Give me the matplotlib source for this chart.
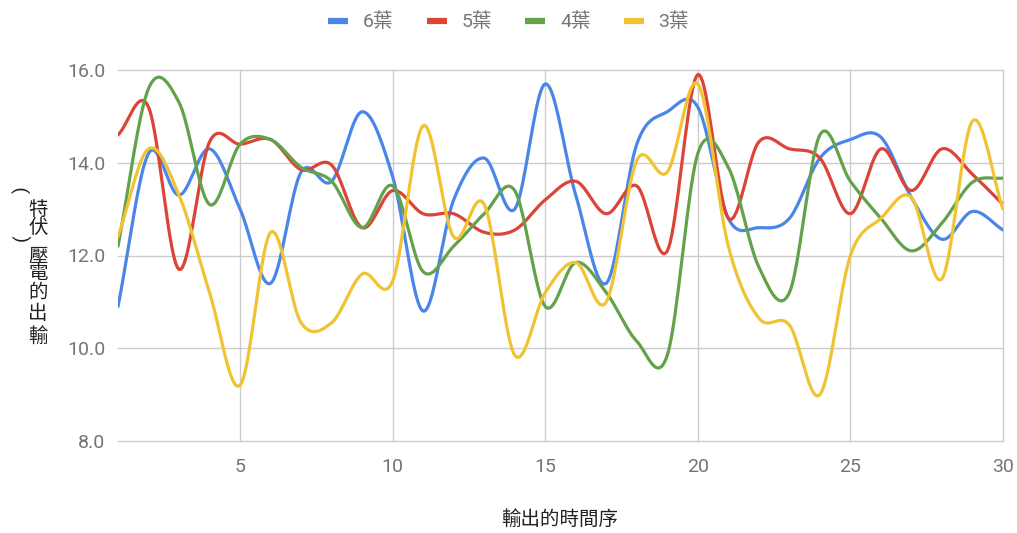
import numpy as np
import matplotlib
matplotlib.use("Agg")
import matplotlib.pyplot as plt

plt.rcParams['font.family'] = ['Roboto', 'Noto Sans CJK TC', 'DejaVu Sans']

x = list(range(1, 31))
series_names = ['6葉', '5葉', '4葉', '3葉']
leaf6 = [10.9, 14.2, 13.3, 14.3, 13.0, 11.4, 13.8, 13.6, 15.1, 13.7,
         10.8, 13.2, 14.1, 13.0, 15.7, 13.3, 11.4, 14.4, 15.1, 15.2,
         12.8, 12.6, 12.8, 14.1, 14.5, 14.55, 13.25, 12.35, 12.95, 12.55]
leaf5 = [14.6, 15.2, 11.7, 14.45, 14.4, 14.5, 13.85, 13.95, 12.6, 13.4,
         12.9, 12.9, 12.5, 12.55, 13.2, 13.6, 12.9, 13.5, 12.1, 15.9,
         12.8, 14.45, 14.3, 14.1, 12.9, 14.3, 13.4, 14.3, 13.75, 13.1]
leaf4 = [12.2, 15.6, 15.3, 13.1, 14.4, 14.5, 13.9, 13.6, 12.6, 13.5,
         11.65, 12.2, 12.9, 13.4, 10.9, 11.85, 11.2, 10.15, 9.85, 14.2,
         13.9, 11.75, 11.2, 14.6, 13.6, 12.8, 12.1, 12.7, 13.58, 13.67]
leaf3 = [12.4, 14.3, 13.3, 11.2, 9.2, 12.5, 10.55, 10.55, 11.6, 11.45,
         14.8, 12.4, 13.1, 9.85, 11.2, 11.85, 11.0, 14.05, 13.8, 15.7,
         12.2, 10.65, 10.5, 9.0, 12.0, 12.8, 13.25, 11.5, 14.9, 13.0]
colors = ['#4a86e8', '#db4437', '#62a24a', '#f1c232']


def smooth(xs, ys, n=20):
    # Catmull-Rom curve through every data point
    xs = np.asarray(xs, float)
    ys = np.asarray(ys, float)
    m = np.gradient(ys, xs)
    m[1:-1] = (ys[2:] - ys[:-2]) / (xs[2:] - xs[:-2])
    out_x, out_y = [], []
    for i in range(len(xs) - 1):
        t = np.linspace(0, 1, n, endpoint=False)
        h = xs[i + 1] - xs[i]
        h00 = 2 * t**3 - 3 * t**2 + 1
        h10 = t**3 - 2 * t**2 + t
        h01 = -2 * t**3 + 3 * t**2
        h11 = t**3 - t**2
        out_x.append(xs[i] + t * h)
        out_y.append(h00 * ys[i] + h10 * h * m[i] + h01 * ys[i + 1] + h11 * h * m[i + 1])
    out_x.append([xs[-1]])
    out_y.append([ys[-1]])
    return np.concatenate(out_x), np.concatenate(out_y)


fig = plt.figure(figsize=(10.17, 5.33), dpi=100)
ax = fig.add_axes([118 / 1017, 92 / 533, 885 / 1017, 371 / 533])

for name, ys, c in zip(series_names, [leaf6, leaf5, leaf4, leaf3], colors):
    sx, sy = smooth(x, ys)
    ax.plot(sx, sy, color=c, lw=2.3, label=name, solid_capstyle='round')

ax.set_xlim(1, 30)
ax.set_ylim(8, 16)
ax.set_xticks([5, 10, 15, 20, 25, 30])
ax.set_yticks([8, 10, 12, 14, 16])
ax.set_yticklabels(['8.0', '10.0', '12.0', '14.0', '16.0'])
ax.grid(True, color='#cccccc', lw=1)
for gl in ax.get_xgridlines() + ax.get_ygridlines():
    gl.set_clip_on(False)
ax.set_axisbelow(True)
for s in ax.spines.values():
    s.set_visible(False)
ax.tick_params(length=0, labelsize=14, labelcolor='#757575', pad=9)
ax.tick_params(axis='x', pad=12)

fig.text(560 / 1017, 1 - 520 / 533, '輸出的時間序', fontsize=14, color='#222222',
         ha='center', va='center')

# vertical y label, characters stacked upright, read bottom to top
ylab = '輸出的電壓(伏特)'
ypos = [337, 314, 293, 273, 257, 238, 228, 210, 190]
for ch, yp in zip(ylab, ypos):
    if ch in '()':
        fig.text(22 / 1017, 1 - yp / 533, ch, rotation=90, fontsize=14,
                 color='#222222', ha='center', va='center')
    else:
        fig.text(38 / 1017, 1 - yp / 533, ch, fontsize=14,
                 color='#222222', ha='center', va='center')

leg = ax.legend(loc='center', bbox_to_anchor=(0.5, 1 - 22 / 533), bbox_transform=fig.transFigure,
                ncol=4, frameon=False, fontsize=14, handlelength=1.05, handletextpad=0.75,
                columnspacing=1.7)
for t in leg.get_texts():
    t.set_color('#757575')
for h in leg.legend_handles:
    h.set_linewidth(4.5)
    h.set_solid_capstyle('butt')

fig.savefig('out.png', dpi=100)
